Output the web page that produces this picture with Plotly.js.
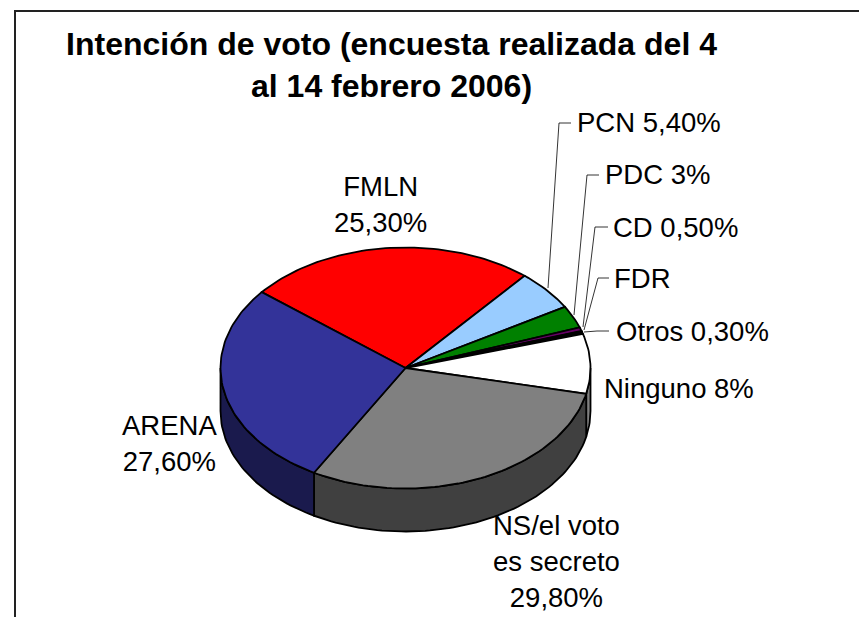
<!DOCTYPE html>
<html><head><meta charset="utf-8">
<script src="https://cdn.plot.ly/plotly-3.0.1.min.js"></script>
<style>html,body{margin:0;padding:0;background:#fff;overflow:hidden}</style>
</head><body><div id="chart" style="width:859px;height:617px"></div>
<script>
// ---- data ----
const categories = ['FMLN','PCN','PDC','CD','FDR','Otros','Ninguno','NS/el voto es secreto','ARENA'];
const values = [25.3,5.4,3,0.5,0.1,0.3,8,29.8,27.6];
const topColors = ['#ff0000','#99ccff','#008000','#660066','#000000','#000000','#ffffff','#808080','#333399'];
const sideColors = ['#800000','#4d6680','#004000','#330033','#000000','#000000','#808080','#404040','#1a1a4d'];
const labelTexts = ['FMLN<br>25,30%','PCN 5,40%','PDC 3%','CD 0,50%','FDR','Otros 0,30%','Ninguno 8%','NS/el voto<br>es secreto<br>29,80%','ARENA<br>27,60%'];
const labelX = [380,649,657,675.5,642,692.5,678.5,556,169];
const labelY = [204,122,174,227,278,331,388,561,443];
const leaderX = [[548,559,571],[574,587,599],[583,595,608],[584,598,609],[584,597,609]];
const leaderY = [[288,123,123],[315,175,175],[327,227,227],[330,278,278],[332,331,331]];
const leaderFor = [1,2,3,4,5];
// ---- geometry of the tilted pie ----
const cx=405.5, cy=368, rx=185, ry=120.5, depth=43, startDeg=-51, lw=1.8;
const px=a=>cx+rx*Math.sin(a*Math.PI/180);
const py=a=>cy-ry*Math.cos(a*Math.PI/180);
const total=values.reduce((a,b)=>a+b,0);
const arc=(a0,a1,dy)=>{const n=Math.max(2,Math.ceil(Math.abs(a1-a0)/1.5)),xs=[],ys=[];
  for(let i=0;i<=n;i++){const a=a0+(a1-a0)*i/n;xs.push(px(a));ys.push(py(a)+dy);}return [xs,ys];};
let cum=startDeg; const spans=values.map(v=>{const s=[cum,cum+v/total*360];cum=s[1];return s;});
const traces=[];
// side walls: visible between 90 and 270 degrees clockwise from the top
spans.forEach((s,i)=>{
  const a0=Math.max(s[0],90), a1=Math.min(s[1],270);
  if(a1<=a0) return;
  const [x1,y1]=arc(a0,a1,0), [x2,y2]=arc(a1,a0,depth);
  traces.push({type:'scatter',mode:'lines',x:[...x1,...x2,x1[0]],y:[...y1,...y2,y1[0]],fill:'toself',fillcolor:sideColors[i],
    line:{color:'#000',width:lw},name:categories[i]+' lateral',hoverinfo:'skip',showlegend:false});
});
// top slices
spans.forEach((s,i)=>{
  const [x1,y1]=arc(s[0],s[1],0);
  traces.push({type:'scatter',mode:'lines',x:[cx,...x1,cx],y:[cy,...y1,cy],fill:'toself',fillcolor:topColors[i],
    line:{color:'#000',width:lw},name:categories[i],text:categories[i]+': '+values[i]+'%',hoverinfo:'text',showlegend:false});
});
// leader lines
leaderFor.forEach((c,k)=>traces.push({type:'scatter',mode:'lines',x:leaderX[k],y:leaderY[k],line:{color:'#000',width:0.8},hoverinfo:'skip',showlegend:false}));
const annotations=labelTexts.map((t,i)=>({x:labelX[i],y:labelY[i],xref:'x',yref:'y',text:t,showarrow:false,xanchor:'center',yanchor:'middle',align:'center',
  font:{family:'"Liberation Sans",Arial,sans-serif',size:27.5,color:'#000'}}));
const layout={width:859,height:617,margin:{l:0,r:0,t:0,b:0},paper_bgcolor:'#fff',plot_bgcolor:'#fff',showlegend:false,
  title:{text:'<b>Intención de voto (encuesta realizada del 4<br>al 14 febrero 2006)</b>',x:0.4558,xanchor:'center',y:0.911,yanchor:'top',
    font:{family:'"Liberation Sans",Arial,sans-serif',size:32,color:'#000'}},
  xaxis:{range:[0,859],visible:false,fixedrange:true},
  yaxis:{range:[617,0],visible:false,fixedrange:true},
  annotations,
  shapes:[{type:'rect',xref:'x',yref:'y',x0:15,y0:11,x1:900,y1:660,line:{color:'#222',width:2},fillcolor:'rgba(0,0,0,0)',layer:'below'}]};
Plotly.newPlot('chart',traces,layout,{displayModeBar:false});
</script></body></html>
